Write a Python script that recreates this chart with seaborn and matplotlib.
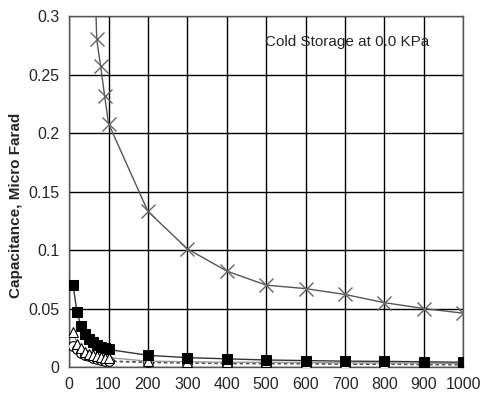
import matplotlib
matplotlib.use("Agg")
import matplotlib.pyplot as plt
import seaborn as sns
import pandas as pd

x = [10, 20, 30, 40, 50, 60, 70, 80, 90, 100, 200, 300, 400, 500, 600, 700, 800, 900, 1000]
cap_x = [1.6, 0.85, 0.6, 0.48, 0.42, 0.40, 0.28, 0.257, 0.232, 0.208, 0.133, 0.101, 0.082, 0.070, 0.067, 0.062, 0.055, 0.050, 0.046]
cap_sq = [0.070, 0.047, 0.035, 0.028, 0.024, 0.021, 0.019, 0.017, 0.016, 0.015, 0.010, 0.008, 0.007, 0.006, 0.0055, 0.005, 0.0048, 0.0045, 0.004]
cap_tri = [0.030, 0.020, 0.016, 0.013, 0.011, 0.010, 0.009, 0.0085, 0.008, 0.008, 0.005, 0.0045, 0.004, 0.004, 0.0038, 0.0035, 0.0035, 0.0033, 0.003]
cap_circ = [0.018, 0.015, 0.012, 0.010, 0.009, 0.008, 0.007, 0.006, 0.0055, 0.005, 0.004, 0.0035, 0.003, 0.003, 0.0028, 0.0025, 0.0025, 0.0022, 0.002]
xticks = [0, 100, 200, 300, 400, 500, 600, 700, 800, 900, 1000]
yticks = [0, 0.05, 0.1, 0.15, 0.2, 0.25, 0.3]
ytick_labels = ["0", "0.05", "0.1", "0.15", "0.2", "0.25", "0.3"]
title_text = "Cold Storage at 0.0 KPa"
ylabel = "Capacitance, Micro Farad"

sns.set_style("white")
fam = ["Liberation Sans", "DejaVu Sans"]
plt.rcParams["font.family"] = fam

fig = plt.figure(figsize=(4.8, 4.03), dpi=100)
ax = fig.add_axes([0.144, 0.0893, 0.821, 0.871])

df = pd.DataFrame({"x": x, "cx": cap_x, "sq": cap_sq, "tri": cap_tri, "circ": cap_circ})

sns.lineplot(data=df, x="x", y="circ", ax=ax, color="#555555", linestyle=(0, (2, 1.5)), lw=1.3,
             marker="o", markersize=7, markerfacecolor="white", markeredgecolor="black", markeredgewidth=0.8, zorder=3)
sns.lineplot(data=df, x="x", y="tri", ax=ax, color="#999999", lw=1.0,
             marker="^", markersize=6.5, markerfacecolor="white", markeredgecolor="black", markeredgewidth=0.8, zorder=4)
sns.lineplot(data=df, x="x", y="sq", ax=ax, color="#333333", lw=1.0,
             marker="s", markersize=7, markerfacecolor="black", markeredgecolor="black", zorder=5)
sns.lineplot(data=df, x="x", y="cx", ax=ax, color="#555555", lw=1.0,
             marker="x", markersize=10, markeredgecolor="#666666", markeredgewidth=1.0, zorder=6)

ax.set_xlim(0, 1000)
ax.set_ylim(0, 0.3)
ax.set_xticks(xticks)
ax.set_xticklabels([str(v) for v in xticks], fontsize=11.5)
ax.set_yticks(yticks)
ax.set_yticklabels(ytick_labels, fontsize=11.5)
ax.grid(True, color="black", lw=1.0)
ax.set_axisbelow(True)
for s in ax.spines.values():
    s.set_color("#555555")
    s.set_linewidth(1.0)
ax.tick_params(axis="both", direction="out", length=4, color="black", pad=3)
ax.set_xlabel("")
ax.set_ylabel(ylabel, fontsize=11, fontweight="bold")
ax.yaxis.set_label_coords(-0.118, 0.46)
ax.text(0.497, 0.926, title_text, transform=ax.transAxes, fontsize=11, ha="left", va="center")

fig.savefig("out.png", dpi=100)
